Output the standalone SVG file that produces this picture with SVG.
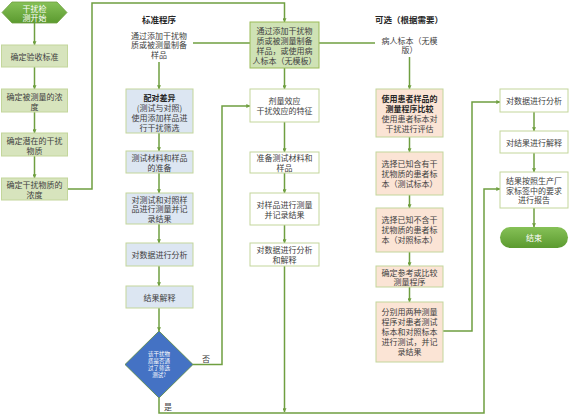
<svg xmlns="http://www.w3.org/2000/svg" width="569" height="417" viewBox="0 0 569 417">
<defs>
<style>
text{font-family:"Noto Sans CJK SC","Liberation Sans",sans-serif;font-size:8px;fill:#404040;text-anchor:middle;dominant-baseline:central}
.t{font-weight:bold;fill:#262626;font-size:8.5px}
.b{font-weight:bold;fill:#262626}
.w{fill:#ffffff}
.d{fill:#ffffff;font-size:5.5px}
.g{fill:#d7e4bd;stroke:#c3d69b;stroke-width:1}
.gm{fill:#cfe2b5;stroke:#9bbb59;stroke-width:1}
.bl{fill:#dce6f2;stroke:#c3d69b;stroke-width:1}
.pe{fill:#fbe4d5;stroke:#c3d69b;stroke-width:1}
.wh{fill:#ffffff;stroke:#c3d69b;stroke-width:1}
.c{fill:none;stroke:#6f9f40;stroke-width:1.5}
</style>
<marker id="ar" viewBox="0 0 6 6" refX="5.5" refY="3" markerWidth="4" markerHeight="4" orient="auto" markerUnits="userSpaceOnUse">
<path d="M0,0 L6,3 L0,6 z" fill="#6f9f40"/>
</marker>
<linearGradient id="gg" x1="0" y1="0" x2="0" y2="1">
<stop offset="0" stop-color="#86c157"/>
<stop offset="1" stop-color="#5b9a2f"/>
</linearGradient>
</defs>
<rect width="569" height="417" fill="#ffffff"/>

<g id="connectors">
<line class="c" x1="34.5" y1="23" x2="34.5" y2="45" marker-end="url(#ar)"/>
<line class="c" x1="34.5" y1="67" x2="34.5" y2="89" marker-end="url(#ar)"/>
<line class="c" x1="34.5" y1="112" x2="34.5" y2="133" marker-end="url(#ar)"/>
<line class="c" x1="34.5" y1="156" x2="34.5" y2="178" marker-end="url(#ar)"/>
<polyline class="c" points="68,189 92,189 92,3 284.5,3 284.5,22" marker-end="url(#ar)"/>
<line class="c" x1="193" y1="43" x2="250" y2="43"/>
<line class="c" x1="319" y1="43" x2="375" y2="43"/>
<line class="c" x1="159" y1="62" x2="159" y2="89" marker-end="url(#ar)"/>
<line class="c" x1="159" y1="133" x2="159" y2="151" marker-end="url(#ar)"/>
<line class="c" x1="159" y1="173" x2="159" y2="193" marker-end="url(#ar)"/>
<line class="c" x1="159" y1="224" x2="159" y2="243" marker-end="url(#ar)"/>
<line class="c" x1="159" y1="266" x2="159" y2="286" marker-end="url(#ar)"/>
<line class="c" x1="159" y1="308" x2="159" y2="331" marker-end="url(#ar)"/>
<polyline class="c" points="193,364.5 222,364.5 222,106 250,106" marker-end="url(#ar)"/>
<polyline class="c" points="159,398 159,413 484,413 484,189 500,189" marker-end="url(#ar)"/>
<line class="c" x1="284.5" y1="68" x2="284.5" y2="89" marker-end="url(#ar)"/>
<line class="c" x1="284.5" y1="122" x2="284.5" y2="152" marker-end="url(#ar)"/>
<line class="c" x1="284.5" y1="173" x2="284.5" y2="193" marker-end="url(#ar)"/>
<line class="c" x1="284.5" y1="225" x2="284.5" y2="243" marker-end="url(#ar)"/>
<line class="c" x1="284.5" y1="266" x2="284.5" y2="412" marker-end="url(#ar)"/>
<line class="c" x1="409.5" y1="57" x2="409.5" y2="89" marker-end="url(#ar)"/>
<line class="c" x1="409.5" y1="137" x2="409.5" y2="152" marker-end="url(#ar)"/>
<line class="c" x1="409.5" y1="195" x2="409.5" y2="208" marker-end="url(#ar)"/>
<line class="c" x1="409.5" y1="252" x2="409.5" y2="266" marker-end="url(#ar)"/>
<line class="c" x1="409.5" y1="287" x2="409.5" y2="302" marker-end="url(#ar)"/>
<polyline class="c" points="443,331 472,331 472,102 500,102" marker-end="url(#ar)"/>
<line class="c" x1="534" y1="112" x2="534" y2="131" marker-end="url(#ar)"/>
<line class="c" x1="534" y1="153" x2="534" y2="172" marker-end="url(#ar)"/>
<line class="c" x1="534" y1="208" x2="534" y2="227" marker-end="url(#ar)"/>
<text x="206" y="358">否</text>
<text x="168" y="406">是</text>
</g>

<g id="start">
<polygon points="2,12.5 12,2 57,2 67,12.5 57,23 12,23" fill="url(#gg)" stroke="#6f9f40" stroke-width="0.8"/>
<text class="w" x="34.5" y="8">干扰检</text>
<text class="w" x="34.5" y="17.5">测开始</text>
</g>
<g id="n-accept"><rect class="g" x="1.5" y="45" width="66" height="22"/><text x="34.5" y="56">确定验收标准</text></g>
<g id="n-conc"><rect class="g" x="1.5" y="89" width="66" height="23"/><text x="34.5" y="96">确定被测量的浓</text><text x="34.5" y="106">度</text></g>
<g id="n-pot"><rect class="g" x="1.5" y="133" width="66" height="23"/><text x="34.5" y="140">确定潜在的干扰</text><text x="34.5" y="150">物质</text></g>
<g id="n-iconc"><rect class="g" x="1.5" y="178" width="66" height="22"/><text x="34.5" y="184.5">确定干扰物质的</text><text x="34.5" y="194">浓度</text></g>

<g id="title-std"><text class="t" x="159" y="19">标准程序</text></g>
<g id="title-opt"><text class="t" x="409" y="19">可选（根据需要）</text></g>

<g id="n-prep-text"><text x="159" y="35">通过添加干扰物</text><text x="159" y="44.5">质或被测量制备</text><text x="159" y="54">样品</text></g>
<g id="n-patient-text"><text x="409.5" y="40">病人标本（无模</text><text x="409.5" y="49.5">版）</text></g>

<g id="n-center"><rect class="gm" x="250" y="22" width="69" height="46"/>
<text x="284.5" y="30">通过添加干扰物</text><text x="284.5" y="40">质或被测量制备</text><text x="284.5" y="50">样品，或使用病</text><text x="284.5" y="60">人标本（无模板）</text></g>

<g id="n-paired"><rect class="bl" x="126" y="89" width="67" height="44"/>
<text class="b" x="159.5" y="97">配对差异</text><text x="159.5" y="107">(测试与对照)</text><text x="159.5" y="117">使用添加样品进</text><text x="159.5" y="127">行干扰筛选</text></g>
<g id="n-mat"><rect class="bl" x="126" y="151" width="67" height="22"/><text x="159.5" y="157.5">测试材料和样品</text><text x="159.5" y="167">的准备</text></g>
<g id="n-meas"><rect class="bl" x="126" y="193" width="67" height="31"/><text x="159.5" y="199">对测试和对照样</text><text x="159.5" y="208.5">品进行测量并记</text><text x="159.5" y="218">录结果</text></g>
<g id="n-anal"><rect class="bl" x="126" y="243" width="67" height="23"/><text x="159.5" y="254.5">对数据进行分析</text></g>
<g id="n-interp"><rect class="bl" x="126" y="286" width="67" height="22"/><text x="159.5" y="297">结果解释</text></g>
<g id="n-decision"><polygon points="159,331 193,364.5 159,398 125,364.5" fill="#4472c4" stroke="#5a8a3a" stroke-width="0.8"/>
<text class="d" x="159" y="354">该干扰物</text><text class="d" x="159" y="361">质是否通</text><text class="d" x="159" y="368">过了筛选</text><text class="d" x="159" y="375">测试?</text></g>

<g id="n-dose"><rect class="wh" x="250" y="89" width="69" height="33"/><text x="284.5" y="100.5">剂量效应</text><text x="284.5" y="110.5">干扰效应的特征</text></g>
<g id="n-prep2"><rect class="wh" x="250" y="152" width="69" height="21"/><text x="284.5" y="157.5">准备测试材料和</text><text x="284.5" y="167">样品</text></g>
<g id="n-meas2"><rect class="wh" x="250" y="193" width="69" height="32"/><text x="284.5" y="204">对样品进行测量</text><text x="284.5" y="214">并记录结果</text></g>
<g id="n-anal2"><rect class="wh" x="250" y="243" width="69" height="23"/><text x="284.5" y="249.5">对数据进行分析</text><text x="284.5" y="259">和解释</text></g>

<g id="n-cmp"><rect class="pe" x="376" y="89" width="67" height="48"/>
<text class="b" x="409.5" y="98">使用患者样品的</text><text class="b" x="409.5" y="108">测量程序比较</text><text x="409.5" y="118">使用患者标本对</text><text x="409.5" y="128">干扰进行评估</text></g>
<g id="n-test"><rect class="pe" x="376" y="152" width="67" height="43"/><text x="409.5" y="163">选择已知含有干</text><text x="409.5" y="173">扰物质的患者标</text><text x="409.5" y="183">本（测试标本）</text></g>
<g id="n-ctrl"><rect class="pe" x="376" y="208" width="67" height="44"/><text x="409.5" y="219.5">选择已知不含干</text><text x="409.5" y="229.5">扰物质的患者标</text><text x="409.5" y="239.5">本（对照标本）</text></g>
<g id="n-ref"><rect class="pe" x="376" y="266" width="67" height="21"/><text x="409.5" y="272">确定参考或比较</text><text x="409.5" y="281.5">测量程序</text></g>
<g id="n-both"><rect class="pe" x="376" y="302" width="67" height="60"/><text x="409.5" y="311.5">分别用两种测量</text><text x="409.5" y="321.5">程序对患者测试</text><text x="409.5" y="331.5">标本和对照标本</text><text x="409.5" y="341.5">进行测试，并记</text><text x="409.5" y="351.5">录结果</text></g>

<g id="n-anal3"><rect class="wh" x="500" y="89" width="68" height="23"/><text x="534" y="100.5">对数据进行分析</text></g>
<g id="n-interp3"><rect class="wh" x="500" y="131" width="68" height="22"/><text x="534" y="142">对结果进行解释</text></g>
<g id="n-report"><rect class="wh" x="500" y="172" width="68" height="36"/><text x="534" y="180.5">结果按照生产厂</text><text x="534" y="190">家标签中的要求</text><text x="534" y="199.5">进行报告</text></g>
<g id="end"><rect x="500" y="227" width="68" height="21" rx="10.5" fill="url(#gg)"/><text class="w" x="534" y="237.5">结束</text></g>
</svg>
